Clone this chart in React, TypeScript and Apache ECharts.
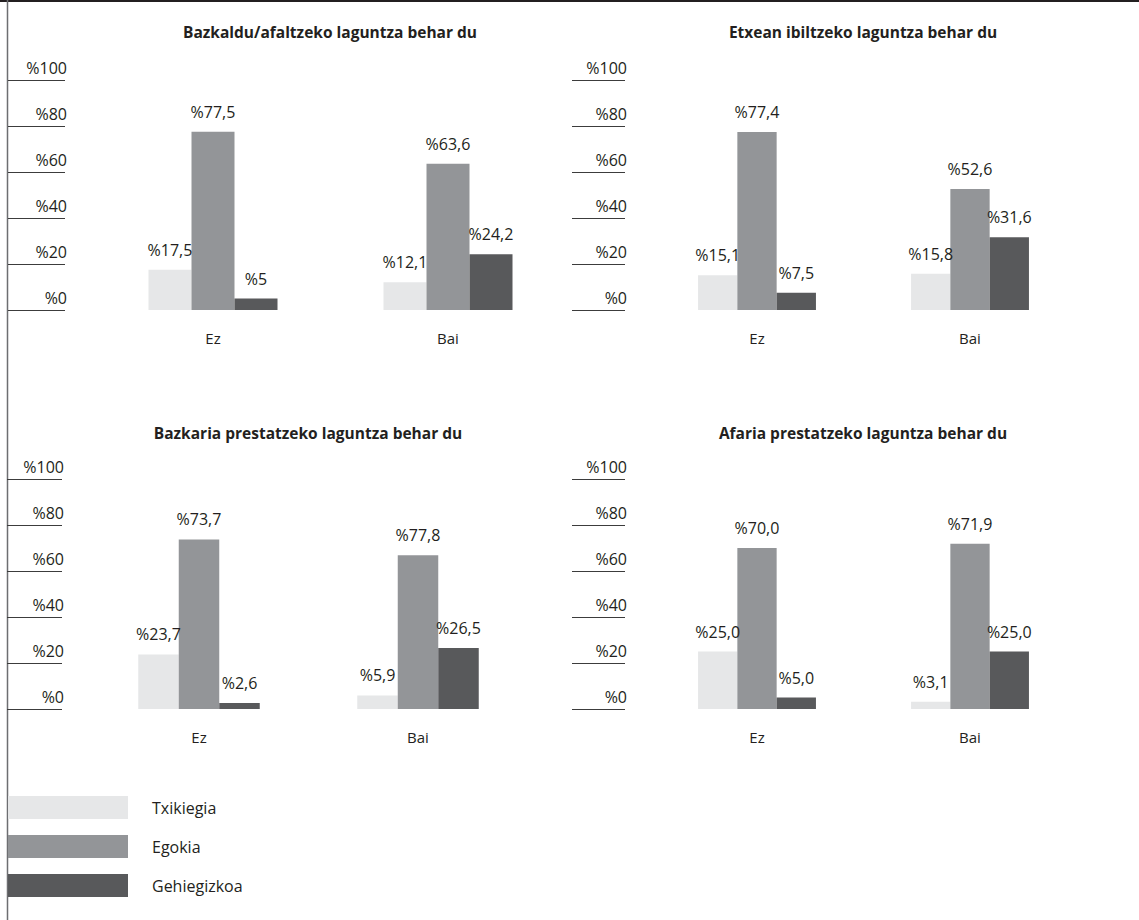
import React, { useEffect, useRef } from "react";
import * as echarts from "echarts";

const categories = ["Ez", "Bai"];
const seriesNames = ["Txikiegia", "Egokia", "Gehiegizkoa"];
const seriesColors = ["#e6e7e8", "#939598", "#58595b"];
const yTicks = [0, 20, 40, 60, 80, 100];

const titles = [
  "Bazkaldu/afaltzeko laguntza behar du",
  "Etxean ibiltzeko laguntza behar du",
  "Bazkaria prestatzeko laguntza behar du",
  "Afaria prestatzeko laguntza behar du",
];

// chart 1
const c1Txikiegia = [17.5, 12.1];
const c1Egokia = [77.5, 63.6];
const c1Gehiegizkoa = [5, 24.2];
const c1TxikiegiaLbl = ["%17,5", "%12,1"];
const c1EgokiaLbl = ["%77,5", "%63,6"];
const c1GehiegizkoaLbl = ["%5", "%24,2"];
// chart 2
const c2Txikiegia = [15.1, 15.8];
const c2Egokia = [77.4, 52.6];
const c2Gehiegizkoa = [7.5, 31.6];
const c2TxikiegiaLbl = ["%15,1", "%15,8"];
const c2EgokiaLbl = ["%77,4", "%52,6"];
const c2GehiegizkoaLbl = ["%7,5", "%31,6"];
// chart 3 (bar for Bai/Egokia is drawn lower than its printed label)
const c3Txikiegia = [23.7, 5.9];
const c3Egokia = [73.7, 66.8];
const c3Gehiegizkoa = [2.6, 26.5];
const c3TxikiegiaLbl = ["%23,7", "%5,9"];
const c3EgokiaLbl = ["%73,7", "%77,8"];
const c3GehiegizkoaLbl = ["%2,6", "%26,5"];
// chart 4
const c4Txikiegia = [25.0, 3.1];
const c4Egokia = [70.0, 71.9];
const c4Gehiegizkoa = [5.0, 25.0];
const c4TxikiegiaLbl = ["%25,0", "%3,1"];
const c4EgokiaLbl = ["%70,0", "%71,9"];
const c4GehiegizkoaLbl = ["%5,0", "%25,0"];

const chartValues = [
  [c1Txikiegia, c1Egokia, c1Gehiegizkoa],
  [c2Txikiegia, c2Egokia, c2Gehiegizkoa],
  [c3Txikiegia, c3Egokia, c3Gehiegizkoa],
  [c4Txikiegia, c4Egokia, c4Gehiegizkoa],
];
const chartLabels = [
  [c1TxikiegiaLbl, c1EgokiaLbl, c1GehiegizkoaLbl],
  [c2TxikiegiaLbl, c2EgokiaLbl, c2GehiegizkoaLbl],
  [c3TxikiegiaLbl, c3EgokiaLbl, c3GehiegizkoaLbl],
  [c4TxikiegiaLbl, c4EgokiaLbl, c4GehiegizkoaLbl],
];

const FONT = "'Open Sans', 'Noto Sans', sans-serif";
const TEXT = "#231f20";

// layout per panel
const panels = [
  { left: 95.5, width: 470, top: 80, barWidth: 43, offset: 30.5, tick: 57, titleX: 330, titleY: 32 },
  { left: 650.5, width: 426, top: 80, barWidth: 39.3, offset: 25.5, tick: 53, titleX: 863, titleY: 32 },
  { left: 89.5, width: 438, top: 479, barWidth: 40.5, offset: 27.5, tick: 55, titleX: 308, titleY: 433 },
  { left: 650.5, width: 426, top: 479, barWidth: 39.3, offset: 25.5, tick: 53, titleX: 863, titleY: 433 },
];

export default function App() {
  const ref = useRef<HTMLDivElement>(null);
  useEffect(() => {
    if (!ref.current) return;
    const chart = echarts.init(ref.current, null, { renderer: "svg" });
    const grid = panels.map((p) => ({
      left: p.left,
      width: p.width,
      top: p.top,
      height: 230,
      containLabel: false,
    }));
    const xAxis = panels.map((p, i) => ({
      type: "category",
      gridIndex: i,
      data: categories,
      axisLine: { show: false },
      axisTick: { show: false },
      axisLabel: { color: TEXT, fontSize: 15, fontFamily: FONT, margin: 20 },
    }));
    const yAxis = panels.map((p, i) => ({
      type: "value",
      gridIndex: i,
      min: 0,
      max: 100,
      interval: 20,
      position: "left",
      offset: p.offset,
      axisLine: { show: false },
      axisTick: { show: true, length: p.tick, lineStyle: { color: "#3c3c3c", width: 1.2 } },
      splitLine: { show: false },
      axisLabel: {
        color: TEXT,
        fontSize: 16,
        fontFamily: FONT,
        margin: -2,
        verticalAlign: "bottom",
        padding: [0, 0, 4, 0],
        formatter: (v: number) => (yTicks.includes(v) ? "%" + v : ""),
      },
    }));
    const series: any[] = [];
    panels.forEach((p, i) => {
      seriesNames.forEach((name, s) => {
        const lbls = chartLabels[i][s];
        series.push({
          type: "bar",
          name,
          xAxisIndex: i,
          yAxisIndex: i,
          data: chartValues[i][s],
          barWidth: p.barWidth,
          barGap: "0%",
          itemStyle: { color: seriesColors[s] },
          label: {
            show: true,
            position: "top",
            distance: 12,
            color: TEXT,
            fontSize: 16,
            fontFamily: FONT,
            formatter: (pr: any) => lbls[pr.dataIndex],
          },
        });
      });
    });
    const graphic: any[] = [
      { type: "line", shape: { x1: 0, y1: 1, x2: 1139, y2: 1 }, style: { stroke: "#231f20", lineWidth: 2 } },
      { type: "line", shape: { x1: 7.5, y1: 0, x2: 7.5, y2: 920 }, style: { stroke: "#6d6e71", lineWidth: 1.5 } },
    ];
    panels.forEach((p, i) => {
      graphic.push({
        type: "text",
        x: p.titleX,
        y: p.titleY,
        style: {
          text: titles[i],
          fill: TEXT,
          font: `bold 15.5px ${FONT}`,
          textAlign: "center",
          textVerticalAlign: "middle",
        },
      });
    });
    chart.setOption({
      animation: false,
      grid,
      xAxis,
      yAxis,
      series,
      graphic,
      legend: {
        orient: "vertical",
        left: 8,
        top: 796,
        padding: 0,
        itemWidth: 120,
        itemHeight: 23,
        itemGap: 16,
        icon: "rect",
        data: seriesNames,
        textStyle: { color: TEXT, fontSize: 16, fontFamily: FONT, padding: [0, 0, 0, 19] },
        selectedMode: false,
      },
    });
    return () => chart.dispose();
  }, []);
  return (
    <div
      ref={ref}
      style={{ position: "fixed", left: 0, top: 0, width: 1139, height: 920, background: "#fff" }}
    />
  );
}
